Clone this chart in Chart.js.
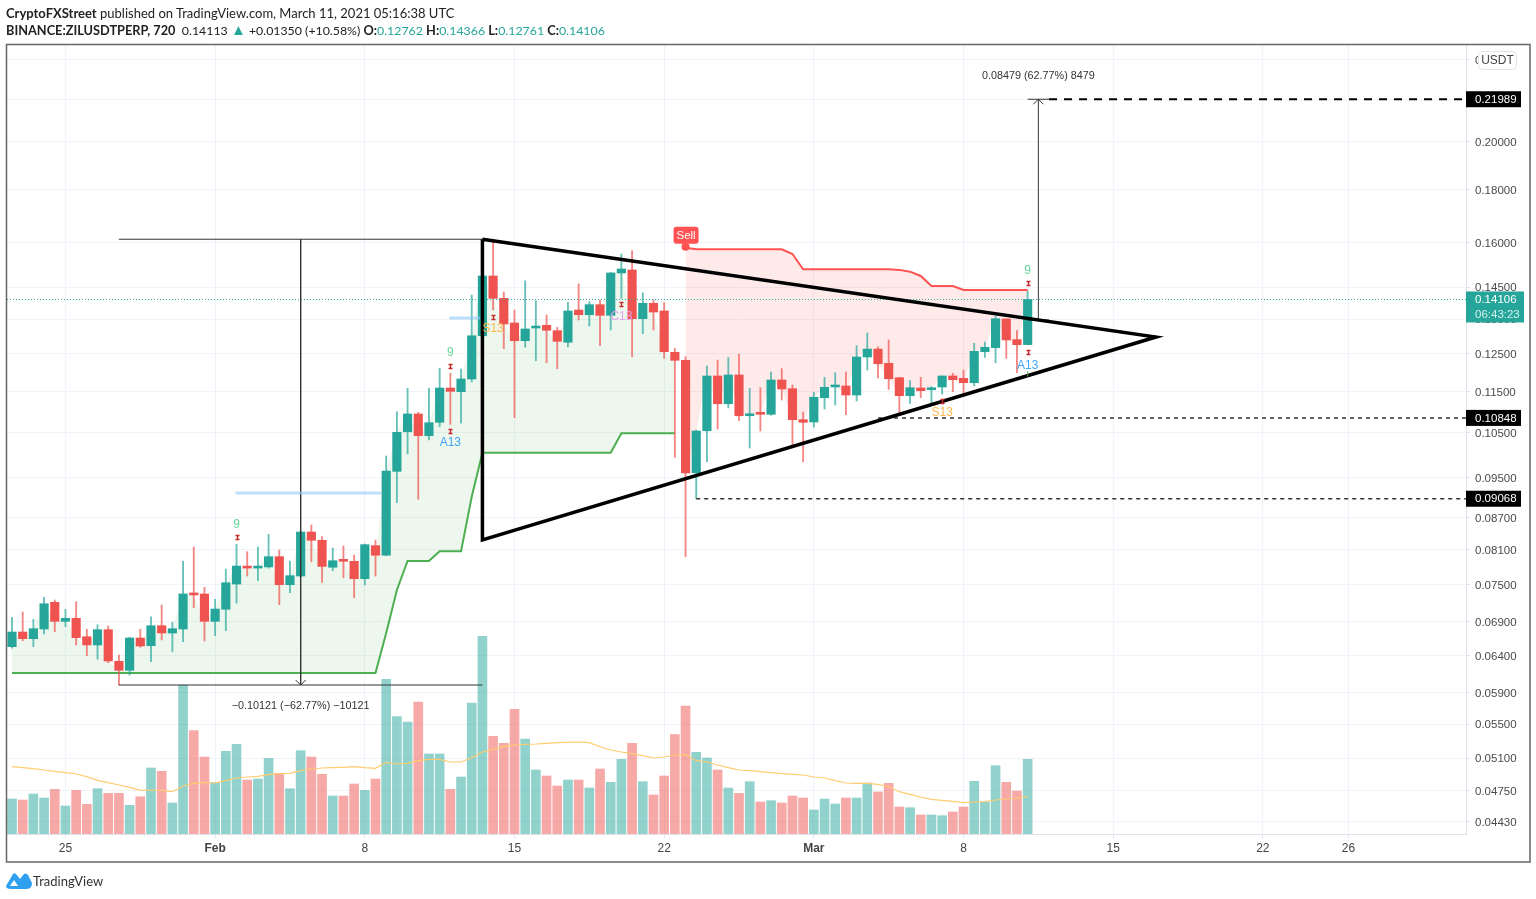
<!DOCTYPE html>
<html>
<head>
<meta charset="utf-8">
<title>ZILUSDTPERP</title>
<script src="https://cdn.jsdelivr.net/npm/chart.js@4/dist/chart.umd.min.js"></script>
<style>
    html, body { margin: 0; padding: 0; background: #fff; overflow: hidden; }
    canvas { position: absolute; left: 0; top: 0; }
    .line { position: absolute; left: 6px; font: 13px Lato, sans-serif; color: #222; white-space: nowrap; }
    .line b { font-weight: 700; }
    .small { font-size: 12.35px; }
    .small b { font-size: 12.75px; }
    .up { color: #26a69a; }
    .tri { color: #26a69a; font-size: 15px; line-height: 12px; }
    #brand { position: absolute; left: 33px; top: 873px; font: 13px Lato, sans-serif; color: #333; }
    #logo { position: absolute; left: 6px; top: 872px; }
</style>
</head>
<body>
<canvas id="chart" width="1536" height="899"></canvas>
<div class="line" style="top:5px"><b>CryptoFXStreet</b> published on TradingView.com, March 11, 2021 05:16:38 UTC</div>
<div class="line small" style="top:22px"><b>BINANCE:ZILUSDTPERP, 720</b>&nbsp; 0.14113 <span class="tri">▲</span> +0.01350 (+10.58%) <b>O:</b><span class="up">0.12762</span> <b>H:</b><span class="up">0.14366</span> <b>L:</b><span class="up">0.12761</span> <b>C:</b><span class="up">0.14106</span></div>
<svg id="logo" width="26" height="17" viewBox="0 0 26 17"><path d="M0 14 L7 2 Q8 0.5 10 2 L14 7 L18 2 Q20 0.5 22 3 L26 11 Q26 17 20 17 L5 17 Q0 17 0 14 Z M8 8 L4 14 L12 14 Z" fill="#2f9ff0" fill-rule="evenodd"/></svg>
<div id="brand">TradingView</div>
<script>
// one 12h bar per entry, oldest first
const opens = [
    .06532,.06748,.06649,.06793,.07207,.06910,.06956,.06678,.06557,.06783,
    .06324,.06199,.06659,.06546,.06843,.06733,.06793,.07342,.07342,.06910,
    .07097,.07506,.07805,.07776,.07795,.07975,.07495,.07640,.08423,.08270,
    .07790,.07915,.07893,.07595,.08172,.08000,.09636,.10520,.10943,.10428,
    .10743,.11591,.11497,.11825,.13015,.14860,.14142,.13389,.12873,.13241,
    .13320,.13163,.12828,.13780,.13637,.13944,.13618,.14959,.15059,.13517,
    .13987,.13750,.12547,.12326,.09607,.10544,.11905,.11194,.11931,.10900,
    .10959,.10935,.11799,.11574,.10805,.10750,.11345,.11618,.11644,.11413,
    .12417,.12637,.12243,.11860,.11395,.11591,.11548,.11618,.11905,.11843,
    .11730,.12563,.12677,.13508,.12905,.12762
];
const highs = [
    .06972,.07054,.06941,.07288,.07244,.07097,.07217,.06789,.06858,.06839,
    .06413,.06669,.06789,.06981,.07165,.06895,.07899,.08148,.07450,.07256,
    .07759,.08196,.08063,.08148,.08380,.08094,.07899,.08440,.08555,.08336,
    .08130,.08166,.08004,.08202,.08274,.09969,.10998,.11584,.10984,.11584,
    .12109,.11976,.12090,.14247,.14900,.16121,.14341,.13780,.14705,.14067,
    .13628,.13261,.14018,.14599,.14037,.14089,.14982,.15602,.15716,.14319,
    .14089,.14006,.12658,.12424,.10560,.12172,.12333,.12405,.12500,.11584,
    .11600,.12010,.12100,.11671,.10991,.11481,.11871,.11992,.12010,.12732,
    .13095,.12699,.12893,.11871,.11781,.11871,.11627,.11905,.11976,.12063,
    .12800,.12836,.13598,.13517,.13163,.14366
];
const lows = [
    .06509,.06619,.06532,.06718,.06752,.06828,.06557,.06403,.06352,.06304,
    .06000,.06134,.06523,.06318,.06630,.06459,.06604,.07122,.06615,.06693,
    .06767,.07196,.07640,.07561,.07773,.07170,.07362,.07620,.07886,.07534,
    .07730,.07611,.07281,.07489,.07640,.07990,.08990,.10014,.09056,.10329,
    .10639,.10694,.10720,.11747,.12980,.13780,.12650,.10853,.12687,.12315,
    .12260,.12100,.12695,.13478,.13300,.12732,.13183,.14142,.12424,.13074,
    .13183,.12380,.09940,.07975,.09068,.09843,.10584,.11090,.10780,.10147,
    .10537,.10910,.11287,.10193,.09843,.10631,.11064,.11163,.10925,.11262,
    .12063,.11851,.11558,.10959,.11205,.11345,.11188,.11438,.11497,.11455,
    .11651,.12405,.12260,.12380,.11992,.12761
];
const closes = [
    .06748,.06649,.06798,.07185,.06910,.06956,.06664,.06557,.06783,.06328,
    .06199,.06659,.06542,.06843,.06733,.06798,.07342,.07326,.06910,.07101,
    .07527,.07811,.07776,.07805,.07975,.07495,.07646,.08423,.08270,.07805,
    .07904,.07893,.07595,.08190,.08000,.09643,.10507,.10943,.10428,.10733,
    .11591,.11506,.11825,.13015,.14860,.14142,.13359,.12873,.13212,.13300,
    .13174,.12856,.13750,.13637,.13944,.13618,.14959,.15092,.13517,.13987,
    .13719,.12563,.12326,.09600,.10537,.11905,.11194,.11931,.10900,.10935,
    .10935,.11799,.11566,.10805,.10743,.11356,.11610,.11644,.11413,.12417,
    .12637,.12233,.11832,.11395,.11600,.11522,.11591,.11905,.11807,.11730,
    .12574,.12687,.13517,.12895,.12760,.14106
];
const volumes = [
    35,34,40,36,44.7,28,43.7,29.7,45.3,40.7,
    40.7,28.7,37.3,66,62.7,31,149,103.3,77,51.3,
    82.7,89.7,54,55,75.7,60.7,45.3,83.3,77,59.7,
    38,38,50,43.7,55,154.7,117.3,112,132,80,
    80,44.7,57,131,197.7,97.7,90.7,124.7,95,64,
    58,48,54,54,46,65,51.7,74.7,90.7,52.3,
    39,58,99.3,128,81.7,76,64,46,40.7,52.3,
    32,33.3,31,38,36,24,35,30,36,36,
    51,42,50.7,27,26.3,19,19,18.3,22,27,
    52.7,32,68.3,51.7,43,74.7
];
const volumeAvg = [
    67.3,66.3,65.3,64,62.7,61.3,60,57.3,53.7,51.3,
    49,46.7,43.7,44,43.7,42.3,48,50.7,51.7,51,
    53.3,56,57,57.7,59.3,60.3,60.7,63.3,65,66,
    66.3,66.7,67.3,66.3,65.7,71.7,70,70.7,73.3,74.7,
    74.7,72,72,76.3,82,84.7,87.7,89,89.7,90,
    90.7,91.3,91.7,92,91.3,87.3,84,82,80.3,78.3,
    76,77,79,79.3,73.3,72,69,66.3,64,63.3,
    62.3,61.3,60.3,59.7,59,57,56,53.3,51,50.7,
    50.7,49.7,47.3,42.3,39.7,37,34.7,33.7,32.7,31.3,
    32,32.3,34,35,36,37.3
];
// supertrend while long (bars 0-62) and short (bars 63-95)
const trendUp = [
    .06161,.06161,.06161,.06161,.06161,.06161,.06161,.06161,.06161,.06161,
    .06161,.06161,.06161,.06161,.06161,.06161,.06161,.06161,.06161,.06161,
    .06161,.06161,.06161,.06161,.06161,.06161,.06161,.06161,.06161,.06161,
    .06161,.06161,.06161,.06161,.06161,.06733,.07407,.07899,.07899,.07899,
    .08070,.08070,.08070,.09109,.10042,.10042,.10042,.10042,.10042,.10042,
    .10042,.10042,.10042,.10042,.10042,.10042,.10042,.10483,.10483,.10483,
    .10483,.10483,.10483
];
const trendDown = [
    .15822,.15766,.15766,.15766,.15766,.15766,.15766,.15766,.15766,.15766,
    .15602,.15082,.15082,.15082,.15082,.15082,.15082,.15082,.15082,.15082,
    .15062,.15002,.14860,.14533,.14533,.14533,.14405,.14405,.14405,.14405,
    .14405,.14405,.14405
];
const tickBars = [5, 19, 33, 47, 61, 75, 89, 103, 117, 125];
const tickNames = ['25', 'Feb', '8', '15', '22', 'Mar', '8', '15', '22', '26'];
const priceTicks = [.24, .22, .2, .18, .16, .145, .135, .125, .115, .105, .095, .087, .081, .075, .069, .064, .059, .055, .051, .0475, .0443];

// drawn levels, in price and bar numbers
const triangle = [[44, .16121], [107, .1298], [44, .08275], [44, .16121]];
const measureHigh = .16121, measureLow = .06;
const targetHigh = .21989, targetLow = .13477;
const lastPrice = .14106, supportA = .10848, supportB = .09068;
const tdNumbers = [[21, .08555, '9'], [41, .12527, '9'], [95, .15026, '9']];
const tdLetters = [
    [45, .13212, 'S13', '#ffb74d'], [41, .10268, 'A13', '#42a5f5'], [57, .13568, 'C13', '#e1a3ee'],
    [87, .10975, 'S13', '#ffb74d'], [95, .1219, 'A13', '#42a5f5']
];
const tdMarks = [[21, .0833], [41, .12169], [41, .1054], [45, .13568], [57, .13951], [87, .11262], [95, .14642], [95, .12555]];

const GREEN = '#26a69a';
const RED = '#ef5350';

function points(values, start) {
    return values.map((y, i) => ({ x: i + start, y }));
}

function segment(x1, y1, x2, y2, color, width, dash) {
    return {
        type: 'line',
        data: [{ x: x1, y: y1 }, { x: x2, y: y2 }],
        borderColor: color,
        borderWidth: width,
        borderDash: dash || [],
        pointRadius: 0,
        order: 5
    };
}

const overlay = {
    id: 'overlay',
    afterDatasetsDraw(chart) {
        const { ctx, scales: { x, y } } = chart;
        ctx.save();

        // TD sequential labels
        ctx.textAlign = 'center';
        ctx.textBaseline = 'middle';
        ctx.font = '12px "Liberation Sans"';
        tdNumbers.forEach(([bar, price, text]) => {
            ctx.fillStyle = '#69d49a';
            ctx.fillText(text, x.getPixelForValue(bar), y.getPixelForValue(price));
        });
        tdLetters.forEach(([bar, price, text, color]) => {
            ctx.fillStyle = color;
            ctx.fillText(text, x.getPixelForValue(bar), y.getPixelForValue(price));
        });
        ctx.strokeStyle = '#c62828';
        ctx.lineWidth = 1.4;
        tdMarks.forEach(([bar, price]) => {
            const px = Math.round(x.getPixelForValue(bar)) + 0.5;
            const py = Math.round(y.getPixelForValue(price)) + 0.5;
            ctx.beginPath();
            ctx.moveTo(px - 2, py - 2); ctx.lineTo(px + 2, py - 2);
            ctx.moveTo(px, py - 2); ctx.lineTo(px, py + 2);
            ctx.moveTo(px - 2, py + 2); ctx.lineTo(px + 2, py + 2);
            ctx.stroke();
        });

        // small green tick below the last bar
        ctx.strokeStyle = '#4caf50';
        ctx.lineWidth = 1;
        ctx.beginPath();
        ctx.moveTo(x.getPixelForValue(95), y.getPixelForValue(.1203));
        ctx.lineTo(x.getPixelForValue(95), y.getPixelForValue(.1189));
        ctx.stroke();

        // Sell flag
        const sx = x.getPixelForValue(63), sy = y.getPixelForValue(trendDown[0]);
        ctx.fillStyle = '#ff5252';
        ctx.beginPath();
        ctx.arc(sx, sy - 1, 4, 0, Math.PI * 2);
        ctx.fill();
        ctx.beginPath();
        ctx.roundRect(sx - 12, sy - 21, 25, 17, 3);
        ctx.fill();
        ctx.fillStyle = '#fff';
        ctx.font = '11.5px "Liberation Sans"';
        ctx.fillText('Sell', sx + 0.5, sy - 12);

        // measure arrows and captions
        ctx.strokeStyle = '#333';
        ctx.lineWidth = 1;
        const downX = x.getPixelForValue(27), downY = y.getPixelForValue(measureLow);
        ctx.beginPath();
        ctx.moveTo(downX - 5, downY - 5); ctx.lineTo(downX, downY); ctx.lineTo(downX + 5, downY - 5);
        ctx.stroke();
        const upX = x.getPixelForValue(96), upY = y.getPixelForValue(targetHigh);
        ctx.beginPath();
        ctx.moveTo(upX - 5, upY + 5); ctx.lineTo(upX, upY); ctx.lineTo(upX + 5, upY + 5);
        ctx.stroke();
        ctx.fillStyle = '#333';
        ctx.font = '10.8px "Liberation Sans"';
        ctx.fillText('−0.10121 (−62.77%) −10121', downX, downY + 21);
        ctx.fillText('0.08479 (62.77%) 8479', upX, upY - 23);

        // axis side labels
        const right = x.right;
        ctx.textAlign = 'left';
        ctx.font = '11.5px "Liberation Sans"';
        [[targetHigh, 16], [supportA, 16], [supportB, 16]].forEach(([price, h]) => {
            const py = y.getPixelForValue(price);
            ctx.fillStyle = '#000';
            ctx.fillRect(right, py - h / 2, 55, h);
            ctx.fillStyle = '#fff';
            ctx.fillText(price.toFixed(5), right + 9, py + 0.5);
        });
        const lastY = y.getPixelForValue(lastPrice);
        ctx.fillStyle = GREEN;
        ctx.fillRect(right, lastY - 8, 58, 31);
        ctx.fillStyle = '#fff';
        ctx.fillText(lastPrice.toFixed(5), right + 9, lastY);
        ctx.fillStyle = '#d5f0ed';
        ctx.fillText('06:43:23', right + 9, lastY + 15);

        // currency button
        ctx.fillStyle = '#fff';
        ctx.strokeStyle = '#e0e3eb';
        ctx.beginPath();
        ctx.roundRect(1478.5, 51.5, 38, 18, 4);
        ctx.fill();
        ctx.stroke();
        ctx.fillStyle = '#444';
        ctx.textAlign = 'center';
        ctx.font = '12px "Liberation Sans"';
        ctx.fillText('USDT', 1497.5, 60.5);

        // outer frame
        ctx.strokeStyle = '#666';
        ctx.lineWidth = 1.5;
        ctx.strokeRect(6.5, 44.5, 1523.5, 817.5);
        ctx.restore();
    }
};

const ctx = document.getElementById('chart').getContext('2d');
new Chart(ctx, {
    type: 'bar',
    data: {
        datasets: [
            {
                type: 'bar', yAxisID: 'yVol', order: 20, grouped: false, barThickness: 9,
                data: points(volumes, 0),
                backgroundColor: closes.map((c, i) => c >= opens[i] ? 'rgba(38,166,154,.5)' : 'rgba(239,83,80,.5)')
            },
            {
                type: 'line', yAxisID: 'yVol', order: 19, data: points(volumeAvg, 0),
                borderColor: '#ffcc6f', borderWidth: 1.2, pointRadius: 0
            },
            {
                type: 'line', order: 15, data: points(trendUp, 0),
                borderColor: '#4caf50', borderWidth: 2, pointRadius: 0,
                fill: '+1', backgroundColor: 'rgba(76,175,80,.1)'
            },
            {
                type: 'line', order: 16, data: points(closes.slice(0, trendUp.length), 0),
                borderWidth: 0, pointRadius: 0
            },
            {
                type: 'line', order: 15, data: points(trendDown, trendUp.length),
                borderColor: '#ff5252', borderWidth: 2, pointRadius: 0,
                fill: '+1', backgroundColor: 'rgba(255,82,82,.12)'
            },
            {
                type: 'line', order: 16, data: points(closes.slice(trendUp.length), trendUp.length),
                borderWidth: 0, pointRadius: 0
            },
            // wicks then bodies
            {
                type: 'bar', order: 12, grouped: false, barThickness: 1.2,
                data: highs.map((h, i) => ({ x: i, y: [lows[i], h] })),
                backgroundColor: closes.map((c, i) => c >= opens[i] ? 'rgba(38,166,154,.7)' : 'rgba(239,83,80,.7)')
            },
            {
                type: 'bar', order: 11, grouped: false, barThickness: 8.5, minBarLength: 2,
                data: opens.map((o, i) => ({ x: i, y: [o, closes[i]] })),
                backgroundColor: closes.map((c, i) => c >= opens[i] ? GREEN : RED)
            },
            segment(-0.47, lastPrice, 136, lastPrice, '#26a69a', 1, [1, 2]),
            segment(20.9, .09184, 34.5, .09184, 'rgba(144,202,249,.6)', 3),
            segment(40.9, .13538, 43.8, .13538, 'rgba(144,202,249,.6)', 3),
            segment(10, measureHigh, 44, measureHigh, '#333', 1),
            segment(10, measureLow, 44, measureLow, '#333', 1),
            segment(27, measureHigh, 27, measureLow, '#333', 1),
            segment(96, targetLow, 96, targetHigh, '#333', 1),
            segment(95, targetLow, 97, targetLow, '#333', 1),
            segment(95, targetHigh, 97, targetHigh, '#333', 1),
            segment(97, targetHigh, 136, targetHigh, '#000', 2, [8, 7]),
            segment(81, supportA, 136, supportA, '#333', 1.5, [4, 4]),
            segment(64, supportB, 136, supportB, '#333', 1.5, [4, 4]),
            {
                type: 'line', order: 1, data: triangle.map(([x, y]) => ({ x, y })),
                borderColor: '#000', borderWidth: 3.5, pointRadius: 0,
                borderJoinStyle: 'miter'
            }
        ]
    },
    options: {
        responsive: false,
        animation: false,
        devicePixelRatio: 1,
        layout: { padding: { left: 7, top: 45, right: 6, bottom: 37 } },
        plugins: { legend: { display: false }, tooltip: { enabled: false } },
        scales: {
            x: {
                type: 'linear',
                min: -0.468,
                max: 136,
                bounds: 'data',
                offset: false,
                afterBuildTicks(scale) { scale.ticks = tickBars.map(value => ({ value })); },
                afterFit(scale) { scale.height = 28; },
                grid: { offset: false, color: '#f0f3fa', tickColor: '#e0e3eb', tickLength: 4 },
                border: { color: '#e0e3eb' },
                ticks: {
                    autoSkip: false,
                    maxRotation: 0,
                    padding: 3,
                    color: '#444',
                    font: c => ({ family: 'Liberation Sans', size: 12, weight: /[a-z]/i.test(tickNames[c.index]) ? 'bold' : 'normal' }),
                    callback: (value, index) => tickNames[index]
                }
            },
            y: {
                type: 'logarithmic',
                position: 'right',
                min: .04312,
                max: .24799,
                bounds: 'data',
                afterBuildTicks(scale) { scale.ticks = priceTicks.map(value => ({ value })); },
                afterFit(scale) { scale.width = 64; },
                grid: { color: '#f0f3fa', tickColor: '#e0e3eb', tickLength: 4 },
                border: { color: '#e0e3eb' },
                ticks: {
                    autoSkip: false,
                    padding: 5,
                    labelOffset: 1,
                    color: '#4a4a4a',
                    font: { family: 'Liberation Sans', size: 11.5 },
                    callback: value => value.toFixed(5)
                }
            },
            yVol: { type: 'linear', display: false, min: 0, max: 789 }
        }
    },
    plugins: [overlay]
});
</script>
</body>
</html>
